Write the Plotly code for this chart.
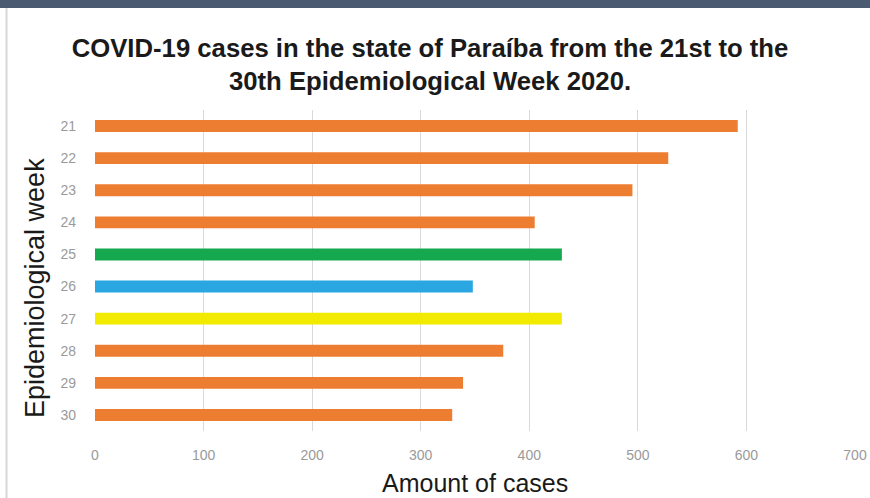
import plotly.graph_objects as go

# Weekly COVID-19 case counts, Paraíba, epidemiological weeks 21-30 (2020)
weeks = ["21", "22", "23", "24", "25", "26", "27", "28", "29", "30"]
cases = [592, 528, 495, 405, 430, 348, 430, 376, 339, 329]
bar_colors = ["#ED7D31", "#ED7D31", "#ED7D31", "#ED7D31", "#16A84F",
              "#2AA7E1", "#F2EA00", "#ED7D31", "#ED7D31", "#ED7D31"]
x_ticks = [0, 100, 200, 300, 400, 500, 600, 700]

W, H = 870, 498
M_L, M_R, M_T, M_B = 95, 15, 110, 67
PLOT_H = H - M_T - M_B
PLOT_W = W - M_L - M_R


def px_y(py):
    """Paper y for a pixel row measured from the top of the page."""
    return (H - py - M_B) / PLOT_H


def px_x(px):
    """Paper x for a pixel column measured from the left of the page."""
    return (px - M_L) / PLOT_W


tick_font = dict(family="Liberation Sans Narrow, Liberation Sans, Arial", size=14, color="#9A9A9A")
label_font = dict(family="Liberation Sans, Arial", color="#1A1A1A")

fig = go.Figure(
    go.Bar(
        x=cases,
        y=weeks,
        orientation="h",
        marker=dict(color=bar_colors, line=dict(width=0)),
        width=0.37,
        hoverinfo="x+y",
    )
)

fig.update_layout(
    width=W,
    height=H,
    margin=dict(l=M_L, r=M_R, t=M_T, b=M_B, autoexpand=False),
    paper_bgcolor="white",
    plot_bgcolor="white",
    showlegend=False,
    title=dict(
        text="COVID-19 cases in the state of Paraíba from the 21st to the<br>30th Epidemiological Week 2020.",
        xref="container",
        x=430 / W,
        xanchor="center",
        yref="container",
        y=1 - 57 / H,
        yanchor="middle",
        font=dict(size=25.7, weight="bold", **label_font),
    ),
    xaxis=dict(
        range=[0, 700],
        tickvals=x_ticks,
        ticktext=[str(v) for v in x_ticks],
        showgrid=True,
        gridcolor="#D9D9D9",
        gridwidth=1,
        zeroline=False,
        showline=False,
        ticks="",
        automargin=False,
        ticklabelstandoff=14,
        tickfont=tick_font,
    ),
    yaxis=dict(
        categoryorder="array",
        categoryarray=weeks[::-1],
        showgrid=False,
        zeroline=False,
        showline=False,
        ticks="",
        automargin=False,
        ticklabelstandoff=18,
        tickfont=tick_font,
    ),
    annotations=[
        dict(text="Amount of cases", xref="paper", yref="paper",
             x=px_x(475), y=px_y(483), xanchor="center", yanchor="middle",
             showarrow=False, font=dict(size=25, **label_font)),
        dict(text="Epidemiological week", xref="paper", yref="paper",
             x=px_x(35), y=px_y(288), xanchor="center", yanchor="middle",
             textangle=-90, showarrow=False, font=dict(size=27, **label_font)),
    ],
    shapes=[
        # dark header band
        dict(type="rect", xref="paper", yref="paper", x0=-0.2, x1=1.1,
             y0=px_y(8), y1=px_y(-20), fillcolor="#4A5A70",
             line=dict(width=0), layer="above"),
        # thin frame on the left edge
        dict(type="line", xref="paper", yref="paper",
             x0=px_x(6.5), x1=px_x(6.5), y0=px_y(H + 10), y1=px_y(8),
             line=dict(color="#D6D6D6", width=2)),
    ],
)

fig.write_html("out.html")
